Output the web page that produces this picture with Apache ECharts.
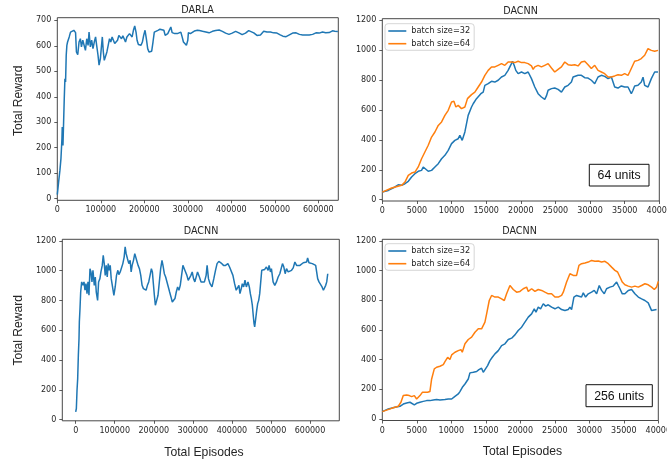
<!DOCTYPE html>
<html>
<head>
<meta charset="utf-8">
<script src="https://cdn.jsdelivr.net/npm/echarts@6/dist/echarts.min.js"></script>
<style>
  html, body { margin: 0; padding: 0; background: #ffffff; }
  #chart { width: 667px; height: 463px; }
</style>
</head>
<body>
<div id="chart"></div>
<script>
// ---- DARLA: total reward vs. total episodes ----
const darlaEpisodes = [0, 3000, 6000, 8400, 10700, 11400, 13000, 14500, 16000, 17500, 19000, 20500, 22000, 23600, 25000, 27400, 30400, 33500, 38000, 42000, 44000, 47000, 50000, 53000, 55500, 58600, 61600, 64700, 67700, 70800, 73000, 76000, 79000, 82000, 85000, 88000, 90500, 93600, 96000, 99000, 101000, 103500, 105800, 108000, 111000, 114000, 117000, 120000, 123000, 126000, 129000, 132000, 135000, 138500, 141500, 144600, 147600, 150700, 153700, 156800, 160000, 163000, 166000, 169000, 172000, 175000, 178000, 181000, 183400, 186400, 189500, 192500, 195600, 198600, 201700, 204700, 207800, 210800, 213800, 217000, 220000, 223000, 226800, 231300, 236000, 240500, 245000, 248000, 251000, 254000, 257000, 261000, 264000, 267000, 270000, 273000, 276000, 280000, 284000, 287000, 290000, 293700, 296800, 300000, 301400, 306000, 310500, 315000, 322000, 326600, 334000, 341500, 349000, 356700, 364000, 372000, 379500, 387000, 394700, 402000, 410000, 417500, 425000, 432700, 440000, 444000, 451700, 459000, 463000, 467000, 474500, 482000, 490000, 497000, 505000, 512500, 518600, 522000, 526000, 533500, 541000, 549000, 556600, 564000, 571800, 579000, 587000, 594600, 602000, 609800, 617000, 625000, 632600, 638000, 645000];
const darlaReward = [16, 65, 111, 157, 236, 281, 209, 301, 393, 471, 458, 563, 602, 615, 609, 635, 654, 661, 661, 652, 576, 565, 615, 628, 596, 622, 615, 582, 628, 602, 654, 596, 622, 589, 615, 635, 602, 563, 524, 550, 556, 635, 576, 543, 550, 576, 602, 628, 615, 635, 622, 609, 602, 622, 641, 635, 628, 639, 628, 615, 635, 628, 648, 641, 635, 661, 678, 654, 622, 605, 609, 602, 615, 641, 661, 628, 589, 576, 569, 579, 615, 654, 661, 661, 665, 661, 661, 641, 641, 648, 654, 674, 652, 648, 648, 654, 648, 648, 654, 635, 615, 609, 602, 622, 652, 648, 654, 658, 661, 660, 657, 654, 651, 657, 660, 662, 657, 650, 645, 650, 657, 651, 644, 650, 660, 662, 651, 641, 636, 643, 657, 654, 654, 651, 650, 643, 638, 645, 636, 643, 650, 651, 645, 643, 643, 643, 645, 651, 650, 654, 651, 652, 659, 657, 656];

// ---- DACNN, 64 units ----
const u64Episodes32 = [0, 865, 1827, 2300, 2790, 3270, 3750, 4230, 4710, 5190, 5670, 5910, 6150, 6635, 7115, 7600, 8080, 8560, 8800, 9040, 9520, 10000, 10480, 10960, 11200, 11540, 11925, 12400, 12885, 13125, 13365, 13600, 13850, 14230, 14570, 14810, 15290, 15770, 16250, 16730, 17210, 17690, 17930, 18170, 18410, 18650, 18800, 19040, 19280, 19615, 20100, 20580, 21060, 21300, 21540, 22020, 22500, 22980, 23460, 23700, 23945, 24425, 24900, 25385, 25870, 26350, 26830, 27310, 27550, 27790, 28270, 28750, 29230, 29710, 30190, 30675, 30920, 31155, 31635, 32115, 32600, 33080, 33560, 34040, 34520, 35000, 35480, 35960, 36200, 36440, 36925, 37400, 37650, 37890, 38370, 38850, 39330, 39810];
const u64Reward32 = [51, 62, 85, 100, 96, 107, 123, 152, 174, 190, 196, 219, 207, 190, 196, 219, 241, 274, 263, 297, 330, 375, 397, 408, 430, 397, 453, 564, 620, 642, 654, 676, 665, 709, 720, 765, 776, 792, 787, 799, 821, 832, 843, 865, 877, 910, 926, 899, 865, 843, 854, 843, 854, 841, 810, 754, 709, 687, 671, 694, 732, 743, 747, 738, 720, 754, 765, 787, 821, 810, 832, 832, 816, 814, 799, 776, 799, 821, 832, 825, 810, 821, 754, 747, 761, 754, 754, 709, 732, 761, 765, 787, 819, 765, 754, 810, 854, 854];
const u64Episodes64 = [0, 1350, 2790, 3270, 3750, 4230, 4710, 4950, 5190, 5670, 6150, 6635, 7115, 7600, 8080, 8560, 9040, 9520, 10000, 10340, 10625, 10960, 11440, 11925, 12300, 12885, 13365, 13850, 14330, 14810, 15290, 15770, 16250, 16730, 17210, 17690, 18170, 18650, 19130, 19615, 20100, 20580, 21060, 21540, 21780, 22020, 22500, 22980, 23460, 23945, 24425, 24900, 25385, 25870, 26350, 26830, 27310, 27790, 28270, 28750, 29230, 29710, 30190, 30675, 31155, 31635, 32115, 32600, 33080, 33560, 34040, 34520, 35000, 35480, 35720, 35960, 36440, 36925, 37400, 37890, 38370, 38850, 39330, 39810];
const u64Reward64 = [51, 78, 96, 118, 163, 178, 185, 196, 219, 274, 319, 364, 419, 453, 497, 520, 564, 598, 654, 658, 620, 631, 609, 620, 676, 703, 720, 754, 787, 832, 865, 888, 888, 899, 910, 899, 921, 921, 917, 926, 917, 917, 910, 895, 872, 888, 899, 888, 899, 910, 881, 854, 872, 888, 921, 903, 899, 903, 895, 921, 926, 903, 877, 899, 865, 854, 843, 821, 821, 828, 836, 832, 843, 832, 854, 865, 926, 932, 944, 966, 1010, 999, 993, 999];

// ---- DACNN, single run over the full training length ----
const dacnnEpisodes = [0, 1700, 3400, 5100, 6800, 8500, 9350, 11000, 12750, 15300, 18700, 21250, 23800, 26350, 29000, 31450, 34000, 36550, 39100, 41650, 44200, 47600, 50150, 52700, 56100, 58650, 62000, 64600, 68000, 70550, 73100, 75650, 78200, 80750, 83300, 85850, 88400, 90950, 94350, 97750, 101150, 104500, 108000, 110500, 114000, 117300, 120700, 124100, 126650, 129200, 132600, 136000, 139400, 142000, 144500, 148000, 151300, 154700, 157250, 159800, 163200, 166600, 170000, 173400, 176800, 180200, 183600, 187000, 190400, 193800, 196350, 198900, 201450, 204000, 207400, 210800, 214200, 217600, 221000, 223500, 227000, 230350, 233750, 237150, 240550, 244000, 247350, 250750, 254150, 257550, 261000, 264350, 267750, 271150, 274550, 278000, 281350, 284750, 288150, 291550, 295000, 298350, 301750, 305150, 308550, 312000, 316800, 321000, 325400, 329600, 334000, 336500, 340000, 344000, 349000, 353700, 358000, 362000, 366500, 372500, 378500, 383700, 389700, 394000, 398300, 402600, 406900, 411000, 415400, 418000, 420600, 424000, 426600, 430000, 433500, 437000, 441200, 444600, 447200, 449800, 452300, 455000, 456700, 458300, 461000, 463500, 466000, 468600, 471200, 473800, 476400, 479800, 484000, 488400, 492700, 495200, 498700, 501200, 505500, 509800, 514100, 518400, 522700, 527000, 529500, 533000, 536400, 539800, 544100, 548400, 552700, 557000, 561300, 565600, 569900, 574200, 578500, 582800, 587100, 591300, 593900, 597300, 601600, 605900, 610200, 614500, 617000, 619600, 623000, 627400, 630800, 634300, 637700, 640200, 642800, 645400];
const dacnnReward = [51, 74, 197, 275, 432, 544, 656, 745, 857, 925, 902, 925, 869, 913, 846, 925, 835, 1014, 992, 925, 1003, 902, 958, 857, 801, 925, 947, 992, 1036, 1104, 1048, 969, 1036, 958, 1048, 1003, 1036, 947, 891, 835, 891, 969, 1003, 974, 992, 1003, 1048, 1092, 1160, 1115, 1081, 1048, 1070, 992, 1036, 1070, 1115, 1104, 1059, 1036, 1014, 969, 902, 880, 891, 869, 902, 925, 969, 1014, 992, 913, 835, 768, 801, 835, 925, 1014, 1070, 1036, 980, 958, 947, 891, 857, 824, 790, 779, 813, 857, 891, 869, 902, 969, 1036, 1048, 992, 969, 936, 947, 969, 992, 947, 925, 936, 992, 958, 925, 936, 925, 969, 1036, 947, 913, 891, 947, 1003, 1048, 1063, 1052, 1036, 1036, 1048, 1025, 1014, 969, 913, 869, 880, 902, 846, 880, 913, 891, 936, 891, 925, 891, 846, 813, 768, 689, 645, 622, 678, 734, 779, 801, 846, 925, 1003, 1014, 1009, 1025, 1003, 1036, 992, 1014, 925, 902, 925, 958, 980, 969, 1048, 1025, 980, 1014, 992, 1003, 1003, 1019, 1059, 1036, 1048, 1036, 1048, 1054, 1048, 1059, 1086, 1054, 1048, 1048, 1041, 1036, 992, 947, 925, 913, 891, 869, 857, 902, 925, 980];

// ---- DACNN, 256 units ----
const u256Episodes32 = [0, 870, 1835, 2560, 3040, 3525, 4010, 4250, 4640, 4975, 5460, 5940, 6425, 6900, 7390, 7870, 8355, 8600, 9080, 9560, 10050, 10530, 11010, 11250, 11600, 11980, 12460, 12700, 13190, 13670, 14000, 14390, 14630, 14875, 15260, 15600, 15940, 16325, 16810, 17290, 17775, 18260, 18740, 19220, 19700, 20190, 20670, 21155, 21640, 22025, 22270, 22600, 22940, 23330, 23670, 24050, 24535, 25020, 25500, 25985, 26470, 26950, 27190, 27430, 27770, 28160, 28500, 28880, 29125, 29460, 29850, 30330, 30720, 31060, 31440, 31780, 32170, 32500, 32990, 33470, 33960, 34200, 34440, 34780, 35160, 35650, 36130, 36610, 37100, 37580, 38060, 38540, 39030, 39270, 39750];
const u256Reward32 = [50, 68, 79, 86, 101, 108, 113, 101, 95, 106, 113, 119, 124, 124, 128, 131, 128, 135, 131, 135, 135, 153, 169, 185, 214, 236, 270, 311, 315, 320, 333, 342, 315, 304, 360, 394, 416, 439, 461, 495, 507, 536, 545, 567, 597, 619, 653, 687, 709, 743, 720, 754, 743, 777, 761, 770, 754, 743, 754, 738, 731, 738, 754, 738, 822, 833, 828, 822, 851, 822, 844, 855, 867, 844, 900, 867, 844, 878, 889, 896, 923, 900, 878, 844, 844, 867, 873, 844, 822, 810, 799, 783, 731, 720, 738];
const u256Episodes64 = [0, 1350, 2320, 2700, 3040, 3525, 3910, 4250, 4640, 4975, 5215, 5460, 5800, 6180, 6570, 6900, 7150, 7535, 7870, 8355, 8840, 9080, 9470, 9800, 10050, 10530, 11010, 11400, 11590, 11980, 12460, 12945, 13430, 13910, 14150, 14390, 14630, 14875, 15120, 15500, 15840, 16325, 16810, 17290, 17680, 18015, 18500, 18740, 18980, 19465, 19950, 20430, 20915, 21155, 21640, 22120, 22600, 23090, 23570, 24050, 24535, 25020, 25500, 25985, 26230, 26710, 27190, 27680, 27920, 28160, 28500, 28880, 29370, 29850, 30330, 30815, 31300, 31780, 32265, 32750, 33230, 33710, 34100, 34440, 34780, 35160, 35650, 36130, 36610, 37100, 37580, 38060, 38540, 39030, 39420, 39750, 40000];
const u256Reward64 = [50, 72, 86, 113, 158, 162, 158, 151, 158, 135, 135, 158, 180, 180, 180, 185, 270, 338, 349, 356, 367, 387, 416, 401, 432, 450, 461, 468, 450, 507, 536, 552, 585, 608, 597, 608, 619, 653, 709, 799, 833, 822, 822, 810, 799, 844, 900, 912, 873, 855, 860, 878, 889, 860, 878, 860, 873, 867, 855, 844, 844, 822, 822, 833, 855, 923, 979, 968, 957, 968, 1036, 1047, 1052, 1058, 1069, 1063, 1065, 1058, 1063, 1047, 1024, 1002, 991, 957, 923, 905, 896, 889, 896, 889, 900, 912, 905, 889, 873, 889, 928];

// ---- tick positions and labels ----
const episodeTicksLong = [0, 100000, 200000, 300000, 400000, 500000, 600000];
const episodeTicksShort = [0, 5000, 10000, 15000, 20000, 25000, 30000, 35000, 40000];
const rewardTicks700 = [0, 100, 200, 300, 400, 500, 600, 700];
const rewardTicks1200 = [0, 200, 400, 600, 800, 1000, 1200];

const seriesNames = ['batch size=32', 'batch size=64'];
const unitLabels = ['64 units', '256 units'];
const titles = ['DARLA', 'DACNN', 'DACNN', 'DACNN'];
const yTitle = 'Total Reward';
const xTitle = 'Total Episodes';

const BLUE = '#1f77b4';
const ORANGE = '#ff7f0e';
const INK = '#262626';
const FRAME = '#333333';

function pairs(xs, ys) { return xs.map((x, i) => [x, ys[i]]); }

function grid(left, top, width, height) {
  return {
    left, top, width, height,
    show: true, borderColor: FRAME, borderWidth: 0.9,
    backgroundColor: 'transparent',
    containLabel: false, outerBoundsMode: 'none'
  };
}

function axis(gridIndex, min, max, ticks) {
  return {
    type: 'value', gridIndex, min, max,
    axisLine: { show: false, onZero: false },
    axisTick: { show: true, inside: false, length: 3, lineStyle: { color: FRAME, width: 0.8 }, customValues: ticks },
    axisLabel: {
      show: true, margin: 6, fontSize: 8, fontFamily: 'DejaVu Sans', color: INK,
      customValues: ticks, hideOverlap: false, formatter: v => String(v)
    },
    splitLine: { show: false }
  };
}

function line(name, data, color, xi) {
  return {
    type: 'line', name, data, xAxisIndex: xi, yAxisIndex: xi,
    showSymbol: false, symbol: 'none', animation: false,
    lineStyle: { color, width: 1.5 }, itemStyle: { color },
    clip: true
  };
}

function legend(top) {
  return {
    data: seriesNames, left: 385, top, orient: 'vertical',
    icon: 'rect', itemWidth: 18, itemHeight: 1.6, itemGap: 2.7,
    padding: [2.3, 4, 1.6, 3.3],
    backgroundColor: 'rgba(255,255,255,0.85)', borderColor: '#cccccc',
    borderWidth: 0.8, borderRadius: 3, selectedMode: false,
    textStyle: { fontSize: 8.2, fontFamily: 'DejaVu Sans', color: INK, lineHeight: 10 }
  };
}

function text(str, x, y, size, family, rot) {
  return {
    type: 'text', x, y, rotation: rot || 0, silent: true,
    style: { text: str, font: size + 'px ' + family, fill: INK, textAlign: 'center', textVerticalAlign: 'middle', align: 'center', verticalAlign: 'middle' }
  };
}

function unitBox(str, x, y, w, h) {
  return {
    type: 'group', silent: true,
    children: [
      { type: 'rect', shape: { x, y, width: w, height: h }, style: { fill: '#ffffff', stroke: '#111111', lineWidth: 1 } },
      { type: 'text', x: x + w / 2, y: y + h / 2 + 0.5, style: { text: str, font: '12.3px "Liberation Sans", Arial, sans-serif', fill: '#111111', textAlign: 'center', textVerticalAlign: 'middle', align: 'center', verticalAlign: 'middle' } }
    ]
  };
}

const chart = echarts.init(document.getElementById('chart'), null, { renderer: 'canvas' });

chart.setOption({
  animation: false,
  backgroundColor: '#ffffff',
  grid: [
    grid(57.3, 17.7, 281, 182.6),
    grid(382.3, 18.7, 277, 182.3),
    grid(62.3, 239.3, 277, 181.5),
    grid(382.3, 239.3, 276, 181.2)
  ],
  xAxis: [
    axis(0, 0, 646000, episodeTicksLong),
    axis(1, 0, 40000, episodeTicksShort),
    axis(2, -34300, 675000, episodeTicksLong),
    axis(3, 0, 40000, episodeTicksShort)
  ],
  yAxis: [
    axis(0, -6.5, 710.5, rewardTicks700),
    axis(1, -8.7, 1210.7, rewardTicks1200),
    axis(2, -8.7, 1211.4, rewardTicks1200),
    axis(3, -10, 1211.5, rewardTicks1200)
  ],
  legend: [legend(23.7), legend(243.7)],
  series: [
    line('DARLA', pairs(darlaEpisodes, darlaReward), BLUE, 0),
    line(seriesNames[0], pairs(u64Episodes32, u64Reward32), BLUE, 1),
    line(seriesNames[1], pairs(u64Episodes64, u64Reward64), ORANGE, 1),
    line('DACNN', pairs(dacnnEpisodes, dacnnReward), BLUE, 2),
    line(seriesNames[0], pairs(u256Episodes32, u256Reward32), BLUE, 3),
    line(seriesNames[1], pairs(u256Episodes64, u256Reward64), ORANGE, 3)
  ],
  graphic: [
    text(titles[0], 197.5, 10.7, 9.6, '"DejaVu Sans"'),
    text(titles[1], 520.5, 11, 9.6, '"DejaVu Sans"'),
    text(titles[2], 201, 231.2, 9.6, '"DejaVu Sans"'),
    text(titles[3], 519.5, 231, 9.6, '"DejaVu Sans"'),
    text(yTitle, 18.7, 100.8, 12.1, '"Liberation Sans", Arial', Math.PI / 2),
    text(yTitle, 18.7, 330.3, 12.1, '"Liberation Sans", Arial', Math.PI / 2),
    text(xTitle, 204, 453, 12.2, '"Liberation Sans", Arial'),
    text(xTitle, 522.5, 451.7, 12.2, '"Liberation Sans", Arial'),
    unitBox(unitLabels[0], 589.3, 164.3, 59.7, 21.7),
    unitBox(unitLabels[1], 586, 384.7, 66.3, 22)
  ]
});
</script>
</body>
</html>
